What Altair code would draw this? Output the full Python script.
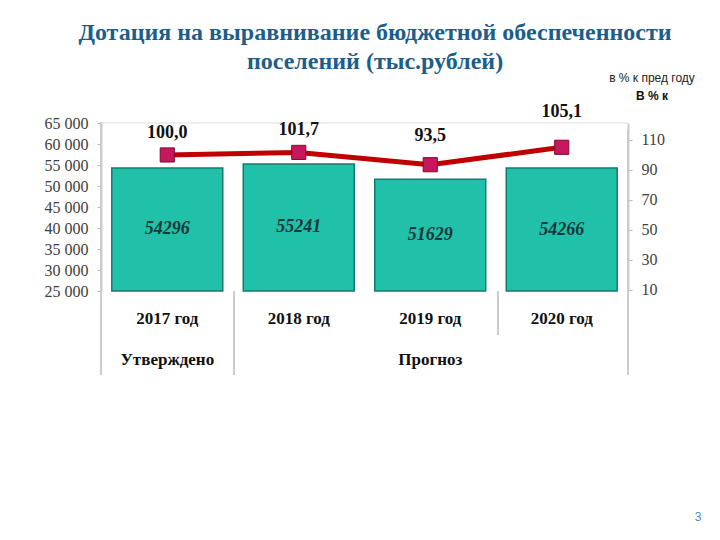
import altair as alt
import pandas as pd

categories = ["2017 год", "2018 год", "2019 год", "2020 год"]
amounts = [54296, 55241, 51629, 54266]
pct = [100.0, 101.7, 93.5, 105.1]
pct_labels = ["100,0", "101,7", "93,5", "105,1"]
group_names = ["Утверждено", "Прогноз"]
group_anchor = ["2017 год", "2019 год"]
left_ticks = [25000, 30000, 35000, 40000, 45000, 50000, 55000, 60000, 65000]
right_ticks = [10, 30, 50, 70, 90, 110]
title_lines = ["Дотация на выравнивание бюджетной обеспеченности", "поселений (тыс.рублей)"]

df = pd.DataFrame({"cat": categories, "amount": amounts, "pct": pct, "plabel": pct_labels,
                   "i": list(range(len(categories)))})
gdf = pd.DataFrame({"grp": group_names, "cat": group_anchor})

W, H = 527, 168
SERIF = "'Liberation Serif', 'Times New Roman', 'DejaVu Serif', serif"
SANS = "'Liberation Sans', Arial, sans-serif"

xscale = alt.Scale(domain=categories, paddingInner=0.156, paddingOuter=0.082)
xaxis = alt.Axis(title=None, domain=False, ticks=False, labelAngle=0,
                 labelFont=SERIF, labelFontSize=17, labelFontWeight="bold",
                 labelColor="#111111", labelPadding=19)
def X():
    return alt.X("cat:N", scale=xscale, sort=categories, axis=xaxis)

lscale = alt.Scale(domain=[25000, 65000], zero=False, nice=False)
laxis = alt.Axis(title=None, values=left_ticks, grid=False,
                 labelExpr="replace(format(datum.value, ',d'), ',', ' ')",
                 labelFont=SERIF, labelFontSize=16, labelColor="#404040",
                 domainColor="#cccccc", domainWidth=2, tickColor="#bbbbbb",
                 tickSize=4, labelPadding=9)
rscale = alt.Scale(domain=[9.3, 121.3], zero=False, nice=False)
raxis = alt.Axis(title=None, orient="right", values=right_ticks, grid=False,
                 labelFont=SERIF, labelFontSize=16, labelColor="#404040",
                 domainColor="#cccccc", domainWidth=2, tickColor="#bbbbbb",
                 tickSize=4, labelPadding=9)

base = alt.Chart(df)

bars = base.mark_bar(color="#21C1A9", stroke="#137C6C", strokeWidth=1.5).encode(
    x=X(), y=alt.Y("amount:Q", scale=lscale, axis=laxis), y2=alt.datum(25000))
bartext = base.transform_calculate(mid="(25000 + datum.amount) / 2").mark_text(
    font=SERIF, fontSize=18, fontWeight="bold", fontStyle="italic", color="#17363B"
).encode(x=X(), y=alt.Y("mid:Q", scale=lscale, axis=laxis), text=alt.Text("amount:Q", format="d"))
left = alt.layer(bars, bartext)

line = base.mark_line(color="#C00000", strokeWidth=5).encode(
    x=X(), y=alt.Y("pct:Q", scale=rscale, axis=raxis))
points = base.mark_point(shape="square", filled=True, size=200, fill="#C8175E",
                         stroke="#7E0A33", strokeWidth=1, opacity=1).encode(
    x=X(), y=alt.Y("pct:Q", scale=rscale, axis=raxis))

def plabels(idx, dy):
    return base.transform_filter(alt.FieldOneOfPredicate(field="i", oneOf=idx)).mark_text(
        font=SERIF, fontSize=18, fontWeight="bold", color="#111111", dy=dy
    ).encode(x=X(), y=alt.Y("pct:Q", scale=rscale, axis=raxis), text="plabel:N")

right = alt.layer(line, points, plabels([0, 1], -22), plabels([2], -29), plabels([3], -35))

groups = alt.Chart(gdf).mark_text(font=SERIF, fontSize=17, fontWeight="bold", color="#111111").encode(
    x=X(), y=alt.value(237), text="grp:N")

# decorative separators (pixel positions in plot coordinates)
topline = alt.Chart(pd.DataFrame({"a": [0]})).mark_rule(color="#e8e8e8", strokeWidth=1.5).encode(
    x=alt.value(0), x2=alt.value(W), y=alt.value(0))
sep_specs = [(0, -1, 252), (133, 168, 252), (397, 168, 212), (W, 7, 252)]
seps = [alt.Chart(pd.DataFrame({"a": [0]})).mark_rule(color="#cccccc", strokeWidth=2).encode(
    x=alt.value(sx), y=alt.value(sy1), y2=alt.value(sy2)) for sx, sy1, sy2 in sep_specs]

def note(t, x, y, **kw):
    return alt.Chart(pd.DataFrame({"t": [t]})).mark_text(**kw).encode(
        x=alt.value(x), y=alt.value(y), text="t:N")

title1 = note(title_lines[0], 274, -90, font=SERIF, fontSize=24, fontWeight="bold", color="#1B5E8C")
title2 = note(title_lines[1], 274, -61, font=SERIF, fontSize=24, fontWeight="bold", color="#1B5E8C")
ann1 = note("в % к пред году", 551, -45, font=SANS, fontSize=12, color="#222222")
ann2 = note("В % к", 551, -27, font=SANS, fontSize=12, fontWeight="bold", color="#111111")
pagenum = note("3", 597, 394, font=SANS, fontSize=12, color="#4F86C6")

chart = alt.layer(topline, *seps, left, right, groups, title1, title2, ann1, ann2, pagenum
                  ).resolve_scale(y="independent")

chart = chart.properties(
    width=W, height=H,
    autosize=alt.AutoSizeParams(type="none"),
    padding={"left": 93, "top": 115, "right": 84, "bottom": 241},
).configure_view(stroke=None)

chart.save("out.html", embed_options={"renderer": "svg", "actions": False})
